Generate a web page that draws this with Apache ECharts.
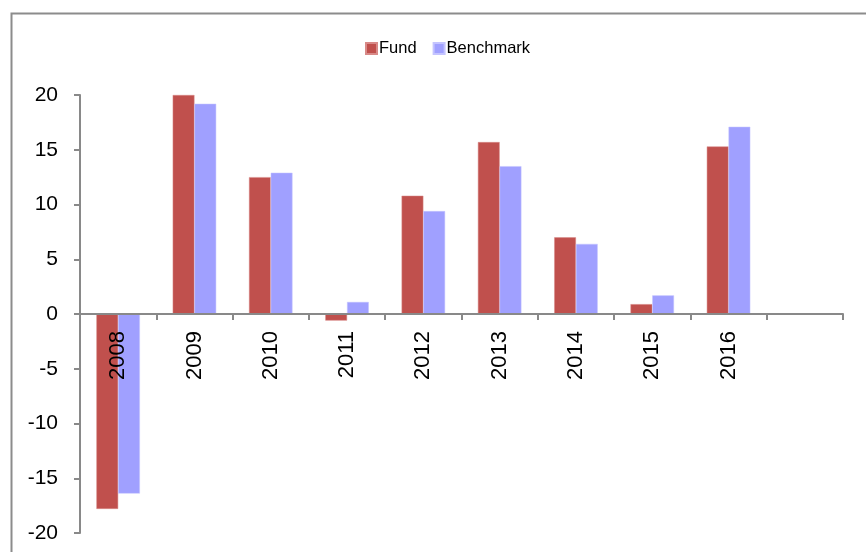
<!DOCTYPE html>
<html>
<head>
<meta charset="utf-8">
<script src="https://cdn.jsdelivr.net/npm/echarts@6/dist/echarts.min.js"></script>
<style>
html,body{margin:0;padding:0;background:#fff;}
#chart{width:866px;height:552px;}
</style>
</head>
<body>
<div id="chart"></div>
<script>
const categories = ['2008','2009','2010','2011','2012','2013','2014','2015','2016',''];
const fund = [-17.8, 20.0, 12.5, -0.6, 10.8, 15.7, 7.0, 0.9, 15.3, null];
const benchmark = [-16.4, 19.2, 12.9, 1.1, 9.4, 13.5, 6.4, 1.7, 17.1, null];
const seriesNames = ['Fund', 'Benchmark'];

const chart = echarts.init(document.getElementById('chart'), null, {renderer:'canvas'});
const axisGray = '#898989';
chart.setOption({
  animation: false,
  backgroundColor: '#fff',
  graphic: [{
    type: 'rect',
    left: 9, top: 11,
    shape: {x: 0, y: 0, width: 900, height: 600},
    style: {fill: 'none', stroke: '#8c8c8c', lineWidth: 2},
    silent: true
  }],
  legend: {
    data: seriesNames,
    left: 360, top: 35,
    itemWidth: 11, itemHeight: 11, itemGap: 16,
    icon: 'rect',
    textStyle: {fontFamily: 'Liberation Sans, Arial', fontSize: 16.5, color: '#000', padding: [0,0,0,-3]}
  },
  grid: {left: 80, right: 23, top: 95, bottom: 19, containLabel: false, outerBoundsMode: 'none'},
  xAxis: {
    type: 'category',
    data: categories,
    offset: -219,
    z: 10,
    axisLine: {onZero: false, lineStyle: {color: axisGray, width: 2}},
    axisTick: {show: true, length: 6, alignWithLabel: false, lineStyle: {color: axisGray, width: 2}},
    axisLabel: {rotate: 90, margin: 17, fontFamily: 'Liberation Sans, Arial', fontSize: 22, color: '#000', interval: 0},
    splitLine: {show: false}
  },
  yAxis: {
    type: 'value',
    min: -20, max: 20, interval: 5,
    z: 10,
    axisLine: {show: true, lineStyle: {color: axisGray, width: 2}},
    axisTick: {show: true, length: 6, lineStyle: {color: axisGray, width: 2}},
    axisLabel: {margin: 22, fontFamily: 'Liberation Sans, Arial', fontSize: 21, color: '#000'},
    splitLine: {show: false}
  },
  series: [
    {name: seriesNames[0], type: 'bar', data: fund, barGap: '0%', barCategoryGap: '43%',
     itemStyle: {color: '#C0504D', borderColor: '#d88a88', borderWidth: 0.5}},
    {name: seriesNames[1], type: 'bar', data: benchmark, barGap: '0%', barCategoryGap: '43%',
     itemStyle: {color: '#A0A0FF', borderColor: '#c4c4ff', borderWidth: 0.5}}
  ]
});
</script>
</body>
</html>
